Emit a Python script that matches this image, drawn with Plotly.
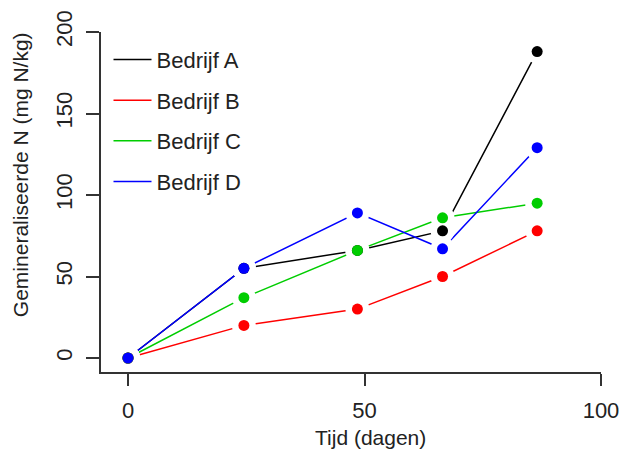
import plotly.graph_objects as go

# Data
tijd = [0, 24.5, 48.5, 66.5, 86.5]
bedrijf_a = [0, 55, 66, 78, 188]
bedrijf_b = [0, 20, 30, 50, 78]
bedrijf_c = [0, 37, 66, 86, 95]
bedrijf_d = [0, 55, 89, 67, 129]

series_names = ["Bedrijf A", "Bedrijf B", "Bedrijf C", "Bedrijf D"]
series_values = [bedrijf_a, bedrijf_b, bedrijf_c, bedrijf_d]
series_colors = ["#000000", "#FF0000", "#00CD00", "#0000FF"]

x_ticks = [0, 50, 100]
y_ticks = [0, 50, 100, 150, 200]

FONT = "Liberation Sans, Arial, sans-serif"

fig = go.Figure()

# lines (legend entries)
for name, vals, col in zip(series_names, series_values, series_colors):
    fig.add_trace(go.Scatter(
        x=tijd, y=vals, mode="lines", name=name,
        line=dict(color=col, width=1.5),
        legendgroup=name, showlegend=True,
    ))

# white halos to emulate R type="b" gaps
for name, vals in zip(series_names, series_values):
    fig.add_trace(go.Scatter(
        x=tijd, y=vals, mode="markers",
        marker=dict(color="white", size=24, line=dict(width=0)),
        showlegend=False, hoverinfo="skip", legendgroup=name,
    ))

# coloured points
for name, vals, col in zip(series_names, series_values, series_colors):
    fig.add_trace(go.Scatter(
        x=tijd, y=vals, mode="markers",
        marker=dict(color=col, size=11, line=dict(width=0)),
        showlegend=False, legendgroup=name,
    ))

fig.update_layout(
    width=622, height=450,
    margin=dict(l=101, r=21, t=32, b=78, pad=0, autoexpand=False),
    plot_bgcolor="white", paper_bgcolor="white",
    font=dict(family=FONT, size=21, color="#222222"),
    showlegend=True,
    legend=dict(
        x=0.015, y=0.98, xanchor="left", yanchor="top",
        bgcolor="rgba(0,0,0,0)", borderwidth=0,
        font=dict(family=FONT, size=22, color="#222222"),
        tracegroupgap=9, itemwidth=38,
    ),
    xaxis=dict(
        range=[-5.71, 100], tickvals=x_ticks, ticktext=[str(v) for v in x_ticks],
        automargin=False,
        showgrid=False, zeroline=False, showline=True, linecolor="#333333", linewidth=1.5,
        ticks="outside", ticklen=12, tickwidth=1.5, tickcolor="#333333",
        ticklabelstandoff=6,
        tickfont=dict(family=FONT, size=22, color="#222222"),
    ),
    yaxis=dict(
        range=[-8.59, 200], tickvals=y_ticks, ticktext=[str(v) for v in y_ticks],
        automargin=False,
        showgrid=False, zeroline=False, showline=True, linecolor="#333333", linewidth=1.5,
        ticks="outside", ticklen=13, tickwidth=1.5, tickcolor="#333333",
        tickangle=-90, ticklabelstandoff=5,
        tickfont=dict(family=FONT, size=22, color="#222222"),
    ),
    annotations=[
        dict(text="Tijd (dagen)", xref="paper", yref="paper",
             x=0.538, y=-0.194, xanchor="center", yanchor="middle",
             showarrow=False, font=dict(family=FONT, size=21, color="#222222")),
        dict(text="Gemineraliseerde N (mg N/kg)", xref="paper", yref="paper",
             x=-0.162, y=0.579, xanchor="center", yanchor="middle", textangle=-90,
             showarrow=False, font=dict(family=FONT, size=21, color="#222222")),
    ],
)

fig.write_html(
    "out.html",
    config={"displayModeBar": False},
    post_script="document.body.style.margin='0';document.body.style.padding='0';",
)
